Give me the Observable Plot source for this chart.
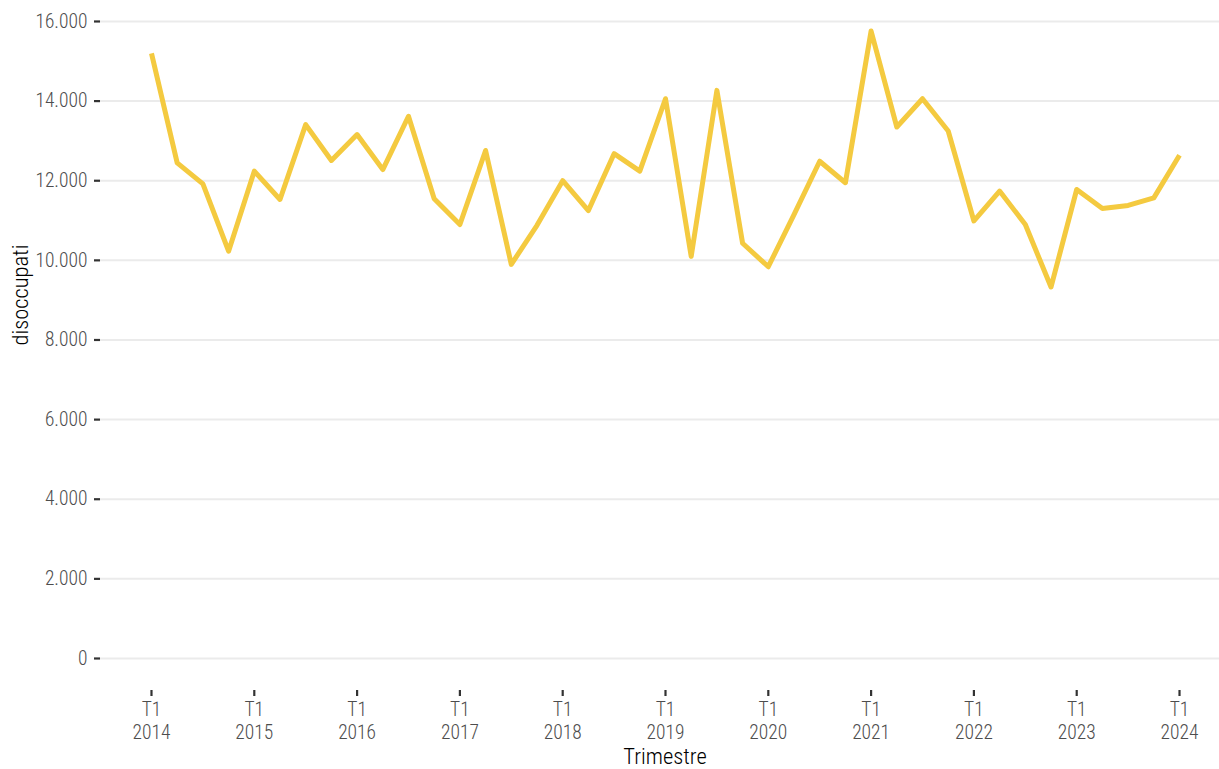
<!DOCTYPE html>
<html>
<head>
<meta charset="utf-8">
<script src="https://cdn.jsdelivr.net/npm/d3@7"></script>
<script src="https://cdn.jsdelivr.net/npm/@observablehq/plot@0.6"></script>
<style>
  html, body { margin: 0; padding: 0; background: #fff; }
  #chart svg { display: block; }
</style>
</head>
<body>
<div id="chart"></div>
<script>
// Quarterly series: 2014 T1 .. 2024 T1
const startYear = 2014;
const quarters = ["T1", "T2", "T3", "T4"];
const disoccupati = [
  15200, 12450, 11920, 10230, 12240, 11530, 13410, 12510, 13160, 12280, 13620,
  11550, 10900, 12760, 9900, 10880, 12000, 11250, 12680, 12240, 14060, 10100,
  14270, 10430, 9840, 11150, 12490, 11950, 15760, 13350, 14060, 13250, 10990,
  11740, 10900, 9330, 11780, 11300, 11380, 11570, 12640
];
const yearTicks = [2014, 2015, 2016, 2017, 2018, 2019, 2020, 2021, 2022, 2023, 2024];
const yTicks = [0, 2000, 4000, 6000, 8000, 10000, 12000, 14000, 16000];
const xTitle = "Trimestre";
const yTitle = "disoccupati";

const data = disoccupati.map((v, i) => ({
  t: startYear + i / 4,
  label: quarters[i % 4] + " " + (startYear + Math.floor(i / 4)),
  value: v
}));

const itFormat = d3.formatLocale({decimal: ",", thousands: ".", grouping: [3], currency: ["", ""]}).format(",");

const font = "'Roboto Condensed', 'Liberation Sans Narrow', 'DejaVu Sans Condensed', 'Arial Narrow', sans-serif";

const chart = Plot.plot({
  width: 1219,
  height: 769,
  marginLeft: 100,
  marginRight: 0,
  marginTop: 0,
  marginBottom: 79,
  style: {fontFamily: font, fontSize: "19.5px", background: "#fff", fontStretch: "condensed", fontWeight: 300},
  x: {domain: [2013.504, 2024.389]},
  y: {domain: [-804, 16527]},
  marks: [
    Plot.gridY(yTicks, {stroke: "#ebebeb", strokeOpacity: 1, strokeWidth: 2}),
    Plot.axisY(yTicks, {
      tickSize: 6, tickPadding: 7, stroke: "#333", strokeWidth: 2.2,
      tickFormat: itFormat, fill: "#4d4d4d", label: null
    }),
    Plot.axisX(yearTicks, {
      tickSize: 6, tickPadding: 3, stroke: "#333", strokeWidth: 2.2,
      tickFormat: (y) => `T1\n${y}`, fill: "#4d4d4d", lineHeight: 1.18, label: null
    }),
    Plot.line(data, {
      x: "t", y: "value", stroke: "#f4ca40", strokeWidth: 5,
      strokeLinejoin: "round", strokeLinecap: "butt"
    }),
    Plot.text([xTitle], {
      frameAnchor: "bottom", text: (d) => d, dx: 5, dy: 66, lineAnchor: "middle",
      fontSize: 22.5, fill: "#000"
    }),
    Plot.text([yTitle], {
      frameAnchor: "left", text: (d) => d, rotate: -90, dx: -80,
      fontSize: 22.5, fill: "#000"
    })
  ]
});

document.getElementById("chart").appendChild(chart);
</script>
</body>
</html>
